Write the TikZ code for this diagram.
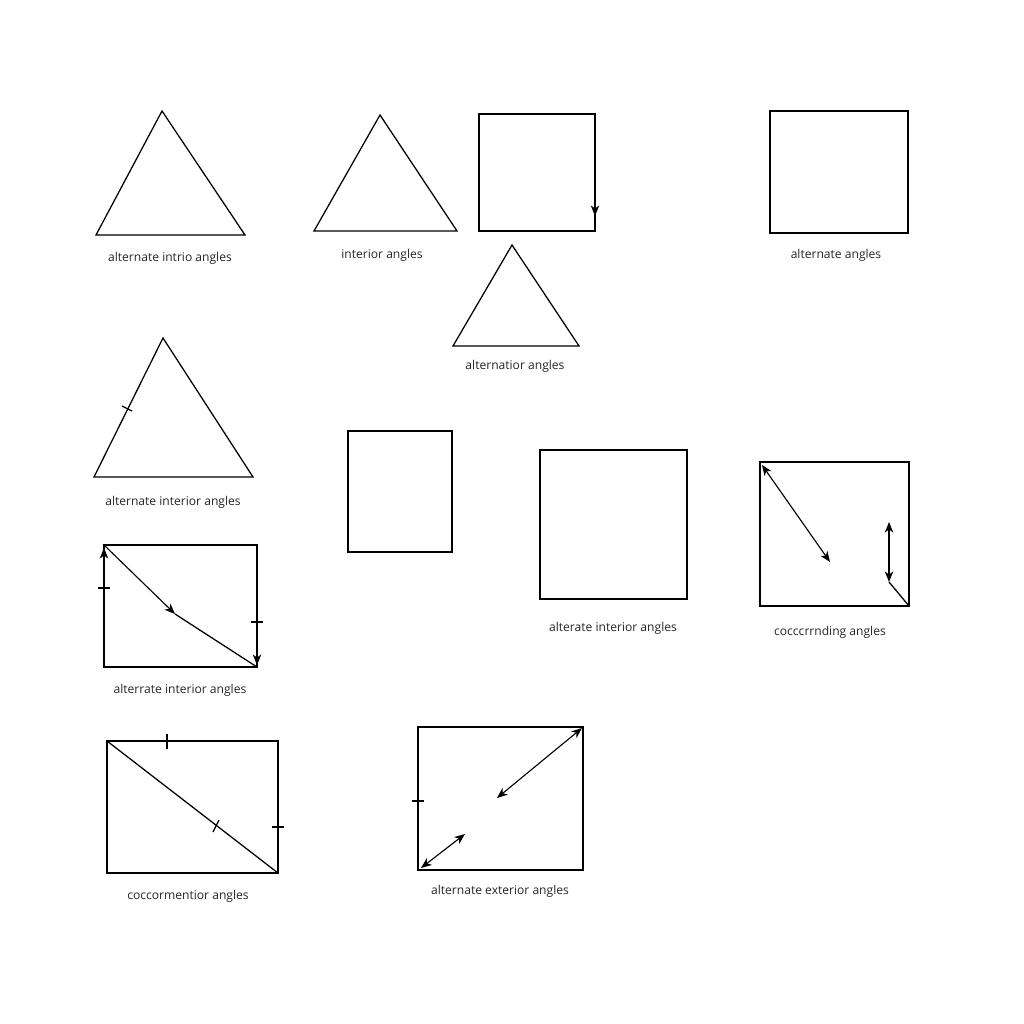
\documentclass[tikz,border=0pt]{standalone}
\usepackage{fontspec}
\setmainfont{Open Sans}
\usetikzlibrary{arrows.meta}
\tikzstyle{none}=[]
\tikzstyle{lbl}=[font=\fontsize{8.6}{10}\selectfont,inner sep=0pt,text=black!85]
\tikzstyle{edge}=[line width=0.9pt]
\tikzstyle{tip}=[line width=0.8pt,-{Stealth[length=7.5pt,width=6pt,inset=2.2pt]}]
\tikzstyle{dtip}=[line width=0.8pt,{Stealth[length=7.5pt,width=6pt,inset=2.2pt]}-{Stealth[length=7.5pt,width=6pt,inset=2.2pt]}]
\tikzstyle{tick}=[line width=0.9pt]

\begin{document}
\begin{tikzpicture}[x=0.025cm, y=-0.025cm]
  \fill [white] (0, 0) rectangle (1024, 1024);
  \useasboundingbox (0, 0) rectangle (1024, 1024);
  % triangles
  \node [style=none] (t1a) at (162, 111) {};
  \node [style=none] (t1b) at (96, 235) {};
  \node [style=none] (t1c) at (245, 235) {};
  \node [style=none] (t2a) at (380, 115) {};
  \node [style=none] (t2b) at (314, 231) {};
  \node [style=none] (t2c) at (457, 231) {};
  \node [style=none] (t3a) at (512, 245) {};
  \node [style=none] (t3b) at (453, 346) {};
  \node [style=none] (t3c) at (579, 346) {};
  \node [style=none] (t4a) at (163, 338) {};
  \node [style=none] (t4b) at (94, 477) {};
  \node [style=none] (t4c) at (253, 477) {};
  \node [style=none] (t4k1) at (122, 406) {};
  \node [style=none] (t4k2) at (132, 411) {};
  \draw [style=edge] (t1a.center) -- (t1b.center) -- (t1c.center) -- cycle;
  \draw [style=edge] (t2a.center) -- (t2b.center) -- (t2c.center) -- cycle;
  \draw [style=edge] (t3a.center) -- (t3b.center) -- (t3c.center) -- cycle;
  \draw [style=edge] (t4a.center) -- (t4b.center) -- (t4c.center) -- cycle;
  \draw [style=tick] (t4k1.center) -- (t4k2.center);
  % squares and rectangles
  \node [style=none] (s1a) at (479, 114) {};
  \node [style=none] (s1b) at (595, 231) {};
  \node [style=none] (s1k) at (595, 196) {};
  \node [style=none] (s1t) at (595, 216) {};
  \node [style=none] (s2a) at (770, 111) {};
  \node [style=none] (s2b) at (908, 233) {};
  \node [style=none] (r1a) at (348, 431) {};
  \node [style=none] (r1b) at (452, 552) {};
  \node [style=none] (r2a) at (540, 450) {};
  \node [style=none] (r2b) at (687, 599) {};
  \draw [style=edge] (s1a.center) rectangle (s1b.center);
  \draw [style=tip] (s1k.center) -- (s1t.center);
  \draw [style=edge] (s2a.center) rectangle (s2b.center);
  \draw [style=edge] (r1a.center) rectangle (r1b.center);
  \draw [style=edge] (r2a.center) rectangle (r2b.center);
  % right box with double arrows
  \node [style=none] (r3a) at (760, 462) {};
  \node [style=none] (r3b) at (909, 606) {};
  \node [style=none] (r3d1) at (762, 465) {};
  \node [style=none] (r3d2) at (830, 562) {};
  \node [style=none] (r3v1) at (889, 522) {};
  \node [style=none] (r3v2) at (889, 582) {};
  \draw [style=edge] (r3a.center) rectangle (r3b.center);
  \draw [style=dtip] (r3d1.center) -- (r3d2.center);
  \draw [style=dtip] (r3v1.center) -- (r3v2.center);
  \draw [style=edge] (r3v2.center) -- (r3b.center);
  % box with bent diagonal
  \node [style=none] (r4a) at (104, 545) {};
  \node [style=none] (r4b) at (257, 667) {};
  \node [style=none] (r4m) at (175, 614) {};
  \node [style=none] (r4l) at (104, 585) {};
  \node [style=none] (r4r) at (257, 630) {};
  \node [style=none] (r4lt) at (104, 548) {};
  \node [style=none] (r4rt) at (257, 665) {};
  \node [style=none] (r4k1) at (98, 588) {};
  \node [style=none] (r4k2) at (110, 588) {};
  \node [style=none] (r4k3) at (251, 622) {};
  \node [style=none] (r4k4) at (263, 622) {};
  \draw [style=edge] (r4a.center) rectangle (r4b.center);
  \draw [style=tip] (r4a.center) -- (r4m.center);
  \draw [style=edge] (r4m.center) -- (r4b.center);
  \draw [style=tip] (r4l.center) -- (r4lt.center);
  \draw [style=tip] (r4r.center) -- (r4rt.center);
  \draw [style=tick] (r4k1.center) -- (r4k2.center);
  \draw [style=tick] (r4k3.center) -- (r4k4.center);
  % box with ticks
  \node [style=none] (r5a) at (107, 741) {};
  \node [style=none] (r5b) at (278, 873) {};
  \node [style=none] (r5k1) at (167, 734) {};
  \node [style=none] (r5k2) at (167, 749) {};
  \node [style=none] (r5k3) at (213, 832) {};
  \node [style=none] (r5k4) at (219, 820) {};
  \node [style=none] (r5k5) at (272, 827) {};
  \node [style=none] (r5k6) at (284, 827) {};
  \draw [style=edge] (r5a.center) rectangle (r5b.center);
  \draw [style=edge] (r5a.center) -- (r5b.center);
  \draw [style=tick] (r5k1.center) -- (r5k2.center);
  \draw [style=tick] (r5k3.center) -- (r5k4.center);
  \draw [style=tick] (r5k5.center) -- (r5k6.center);
  % box with two diagonal arrows
  \node [style=none] (r6a) at (418, 727) {};
  \node [style=none] (r6b) at (583, 870) {};
  \node [style=none] (r6d1) at (582, 728) {};
  \node [style=none] (r6d2) at (497, 798) {};
  \node [style=none] (r6d3) at (421, 868) {};
  \node [style=none] (r6d4) at (465, 834) {};
  \node [style=none] (r6k1) at (412, 801) {};
  \node [style=none] (r6k2) at (424, 801) {};
  \draw [style=edge] (r6a.center) rectangle (r6b.center);
  \draw [style=dtip] (r6d1.center) -- (r6d2.center);
  \draw [style=dtip] (r6d3.center) -- (r6d4.center);
  \draw [style=tick] (r6k1.center) -- (r6k2.center);
  % labels
  \node [style=lbl] (l1) at (170, 258) {alternate intrio angles};
  \node [style=lbl] (l2) at (382, 255) {interior angles};
  \node [style=lbl] (l3) at (515, 366) {alternatior angles};
  \node [style=lbl] (l4) at (836, 255) {alternate angles};
  \node [style=lbl] (l5) at (173, 502) {alternate interior angles};
  \node [style=lbl] (l6) at (180, 690) {alterrate interior angles};
  \node [style=lbl] (l7) at (613, 628) {alterate interior angles};
  \node [style=lbl] (l8) at (830, 632) {cocccrrnding angles};
  \node [style=lbl] (l9) at (188, 896) {coccormentior angles};
  \node [style=lbl] (l10) at (500, 891) {alternate exterior angles};
\end{tikzpicture}
\end{document}
